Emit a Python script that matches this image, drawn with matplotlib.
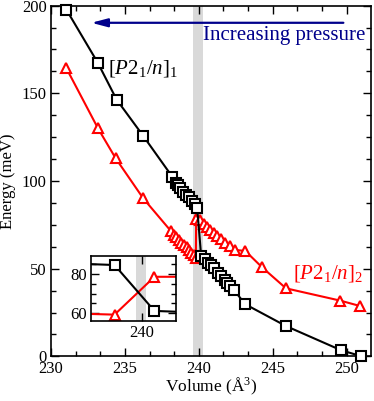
import matplotlib
matplotlib.use("Agg")
import matplotlib.pyplot as plt
from matplotlib.ticker import MultipleLocator, AutoMinorLocator

plt.rcParams['font.family'] = ['Liberation Serif', 'DejaVu Serif']
plt.rcParams['mathtext.fontset'] = 'custom'
plt.rcParams['mathtext.rm'] = 'Liberation Serif'
plt.rcParams['mathtext.it'] = 'Liberation Serif:italic'

# ---- data ----
black_x = [231.04, 233.16, 234.44, 236.24, 238.20, 238.43, 238.58, 238.76, 238.94, 239.10,
           239.32, 239.55, 239.71, 239.89, 240.16, 240.39, 240.61, 240.84, 241.02, 241.29,
           241.52, 241.74, 241.92, 242.14, 242.37, 243.15, 245.90, 249.60, 250.95]
black_y = [197.7, 167.5, 146.4, 125.7, 102.5, 99.0, 97.7, 95.8, 93.9, 92.0,
           90.7, 88.8, 86.9, 84.6, 57.1, 55.3, 53.4, 52.1, 50.2, 47.7,
           45.8, 43.6, 42.0, 40.1, 37.9, 29.7, 17.3, 3.6, 0.2]

red_x = [231.04, 233.18, 234.37, 236.24, 238.09, 238.31, 238.49, 238.65, 238.81, 238.99,
         239.17, 239.32, 239.50, 239.66, 239.80, 239.82, 240.07, 240.34, 240.57, 240.79,
         241.01, 241.24, 241.47, 241.80, 242.14, 242.48, 243.15, 244.28, 245.90, 249.57, 250.92]
red_y = [164.3, 130.0, 113.0, 90.1, 71.7, 69.2, 67.9, 66.4, 64.8, 63.5,
         62.2, 60.7, 59.1, 57.8, 56.0, 78.5, 77.8, 75.5, 73.9, 72.1,
         70.2, 68.6, 66.8, 64.8, 63.0, 60.7, 60.1, 50.8, 38.8, 31.8, 28.7]

inset_x = [235.5, 238.23, 240.82, 243.5]
inset_black = [85.4, 84.6, 61.2, 60.4]
inset_red = [59.9, 59.3, 78.6, 78.6]

band = (239.62, 240.27)
label_1 = r'$[P2_1/n]_1$'
label_2 = r'$[P2_1/n]_2$'
arrow_text = 'Increasing pressure'

W, H = 374, 401
fig = plt.figure(figsize=(W / 100, H / 100), dpi=100)
ax = fig.add_axes([51 / W, 1 - 356.4 / H, 320 / W, 350.8 / H])

ax.axvspan(*band, color='#d9d9d9', lw=0, zorder=0)
ax.plot(black_x, black_y, color='black', lw=1.5, marker='s', ms=6.5, mfc='white',
        mec='black', mew=1.5, clip_on=False, zorder=3)
ax.plot(red_x, red_y, color='red', lw=1.5, marker='^', ms=7, mfc='white',
        mec='red', mew=1.5, clip_on=False, zorder=2)

ax.set_xlim(230, 251.65)
ax.set_ylim(0, 200)
ax.xaxis.set_major_locator(MultipleLocator(5))
ax.xaxis.set_minor_locator(AutoMinorLocator(3))
ax.yaxis.set_major_locator(MultipleLocator(50))
ax.yaxis.set_minor_locator(AutoMinorLocator(4))
ax.tick_params(which='both', direction='in', top=True, right=True, labelsize=12, width=1)
ax.tick_params(which='major', length=6, pad=3)
ax.tick_params(which='minor', length=3.5)
for s in ax.spines.values():
    s.set_linewidth(1.2)

ax.set_xlabel('Volume (Å$^3$)', fontsize=12.5)
ax.set_ylabel('Energy (meV)', fontsize=12)
ax.xaxis.set_label_coords(0.5, -0.055)
ax.yaxis.set_label_coords(-0.108, 0.5)

ax.annotate('', xy=(232.73, 190.2), xytext=(249.78, 190.2),
            arrowprops=dict(arrowstyle='-|>,head_length=0.95,head_width=0.25',
                            color='#00008b', lw=1.6, mutation_scale=10,
                            shrinkA=0, shrinkB=0))
ax.text(251.3, 182.8, arrow_text, color='#00008b', fontsize=15, ha='right', va='center')
ax.text(233.85, 164.4, label_1, color='black', fontsize=15, ha='left', va='center')
ax.text(246.4, 47.5, label_2, color='red', fontsize=15, ha='left', va='center')

# ---- inset ----
ins = fig.add_axes([91 / W, 1 - 321.3 / H, 84.7 / W, 65.3 / H])
ins.axvspan(*band, color='#d9d9d9', lw=0, zorder=0)
ins.plot(inset_x, inset_black, color='black', lw=1.5, marker='s', ms=6.5, mfc='white',
         mec='black', mew=1.5, zorder=3)
ins.plot(inset_x, inset_red, color='red', lw=1.5, marker='^', ms=7, mfc='white',
         mec='red', mew=1.5, zorder=2)
ins.set_xlim(236.7, 242.2)
ins.set_ylim(55.9, 89.2)
ins.xaxis.set_major_locator(MultipleLocator(5))
ins.yaxis.set_major_locator(MultipleLocator(20))
ins.yaxis.set_minor_locator(AutoMinorLocator(4))
ins.tick_params(which='both', direction='in', top=True, right=True, labelsize=12, width=1)
ins.tick_params(which='major', length=6, pad=3)
ins.tick_params(which='minor', length=3.5)
for s in ins.spines.values():
    s.set_linewidth(1.2)

fig.savefig('out.png', dpi=100)
